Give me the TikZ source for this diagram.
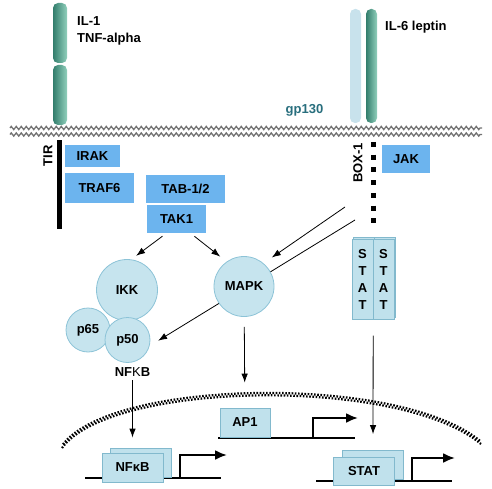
\documentclass[tikz,border=0pt]{standalone}
\usepackage{fontspec}
\setmainfont{Liberation Sans}
\usepackage{tikz}
\usetikzlibrary{arrows.meta,decorations.pathmorphing,positioning}
\definecolor{protblue}{RGB}{108,180,238}
\definecolor{ballfill}{RGB}{198,228,238}
\definecolor{ballline}{RGB}{140,195,215}
\definecolor{genefill}{RGB}{192,225,236}
\definecolor{geneline}{RGB}{130,185,205}
\definecolor{recdark}{RGB}{50,125,108}
\definecolor{reclight}{RGB}{145,208,188}
\definecolor{gplight}{RGB}{200,226,236}
\definecolor{gptext}{RGB}{40,110,125}
\tikzset{arrowout/.style={-{Latex[length=9pt,width=6.5pt]},line width=0.8pt},prot/.style={rectangle,fill=protblue,minimum height=28pt,inner sep=0pt,text centered},ball/.style={circle,draw=ballline,fill=ballfill,inner sep=0pt,line width=0.8pt},gene/.style={rectangle,draw=geneline,fill=genefill,minimum width=61pt,minimum height=29pt,inner sep=0pt,line width=0.8pt},receptor/.style={rectangle,rounded corners=5pt,left color=recdark,right color=reclight,inner sep=0pt}}
\tikzstyle{dna}=[line width=2.2pt]
\tikzstyle{promoter}=[line width=2.2pt,-{Latex[length=12pt,width=10pt]}]
\tikzstyle{membrane}=[decorate,decoration={zigzag,segment length=5pt,amplitude=1.6pt},line width=1.3pt,draw=black!55]
\tikzstyle{envelope}=[line width=2.2pt,dash pattern=on 1.6pt off 1.6pt]
\tikzstyle{box1}=[line width=5pt,dash pattern=on 5pt off 7.7pt]
\tikzstyle{statbox}=[rectangle,draw=geneline,fill=genefill,minimum width=21pt,minimum height=80pt,inner sep=0pt,align=center,font=\bfseries\fontsize{13}{17.3}\selectfont]

\begin{document}
\begin{tikzpicture}[x=1pt,y=-1pt,font=\bfseries\fontsize{13}{15}\selectfont]

\useasboundingbox (0,0) rectangle (492,489);

\foreach \y in {128,134.5}
  \draw[membrane] (10,\y) -- (482,\y);

\node (il1a) at (60,33)[receptor,minimum width=14pt,minimum height=60pt]{};
\node (il1b) at (60,95)[receptor,minimum width=14pt,minimum height=60pt]{};
\node (il1txt) at (77,31)[anchor=west,align=left,inner sep=0pt]{IL-1\\[2pt]TNF-alpha};

\node (gp130bar) at (355.5,66)[rectangle,rounded corners=5pt,fill=gplight,minimum width=11pt,minimum height=114pt,inner sep=0pt]{};
\node (il6r) at (371.5,66)[receptor,minimum width=11pt,minimum height=114pt]{};
\node (il6txt) at (385,27)[anchor=west,inner sep=0pt]{IL-6 leptin};
\node (gp130txt) at (304.5,110)[text=gptext]{gp130};

\node (tirbar) at (59,184.5)[fill=black,minimum width=5pt,minimum height=89pt,inner sep=0pt]{};
\node (tirtxt) at (48,156)[rotate=90]{TIR};
\node (irak) at (92.5,156)[prot,minimum width=55pt,minimum height=22pt]{IRAK};
\node (traf6) at (99.5,188)[prot,minimum width=69pt,minimum height=29pt]{TRAF6};
\node (tab) at (185.5,189)[prot,minimum width=79pt]{TAB-1/2};
\node (tak1) at (176.5,219)[prot,minimum width=59pt]{TAK1};

\draw[box1] (373,142) -- (373,224);
\node (box1txt) at (358,163)[rotate=90]{BOX-1};
\node (jak) at (406,159)[prot,minimum width=48pt]{JAK};

\node (statlb) at (364,277)[statbox]{};
\node (statrb) at (385,277)[statbox]{};
\node (statl) at (362.5,279.5)[statbox]{S\\T\\A\\T};
\node (statr) at (383.5,279.5)[statbox]{S\\T\\A\\T};

\node (ikk) at (127,290)[ball,minimum size=61pt]{IKK};
\node (p65) at (88,330)[ball,minimum size=44pt]{p65};
\node (p50) at (127.5,340)[ball,minimum size=45pt]{p50};
\node (nfkbtxt) at (132.5,372){NF{\mdseries K}B};

\coordinate (jakout1) at (345,207);
\coordinate (jakout2) at (355,220);
\draw[arrowout,shorten >=10pt] (jakout2) -- (p50.-15);

\node (mapk) at (244,286.5)[ball,minimum size=60pt]{MAPK};

\draw[arrowout,shorten >=10pt] (jakout1) -- (mapk.50);
\draw[arrowout,shorten <=5pt,shorten >=6pt] ([xshift=-10pt]tak1.south) -- (ikk.82);
\draw[arrowout,shorten <=5pt,shorten >=8pt] ([xshift=14pt]tak1.south) -- (mapk.125);

\draw[envelope] (62,448) .. controls (110,381) and (400,376) .. (481,444);
\draw[envelope,dash phase=1.6pt] (62,445.6) .. controls (110,378.6) and (400,373.6) .. (481,441.6);

\draw[dna] (85,478) -- (221,478);
\node (nfkbback) at (140.5,462.5)[gene]{};
\node (nfkbgene) at (132.5,467.5)[gene]{NFκB};
\draw[promoter] (180,478) |- (227,455);

\draw[dna] (218,438) -- (355,438);
\node (ap1) at (245,422.5)[gene,minimum width=50pt]{AP1};
\draw[promoter] (313,438) |- (358,418);

\draw[dna] (316,481) -- (452,481);
\node (statback) at (373,465)[gene]{};
\node (statgene) at (364,471)[gene,minimum height=28pt]{STAT};
\draw[promoter] (412,481) |- (455,458);

\draw[arrowout,shorten <=10pt,shorten >=25pt] (mapk) -- (ap1);
\draw[arrowout,shorten >=15pt] (nfkbtxt) -- (nfkbgene);
\draw[arrowout,shorten <=16pt,shorten >=16pt] (statl.south east) -- (statback.north);

\end{tikzpicture}
\end{document}
